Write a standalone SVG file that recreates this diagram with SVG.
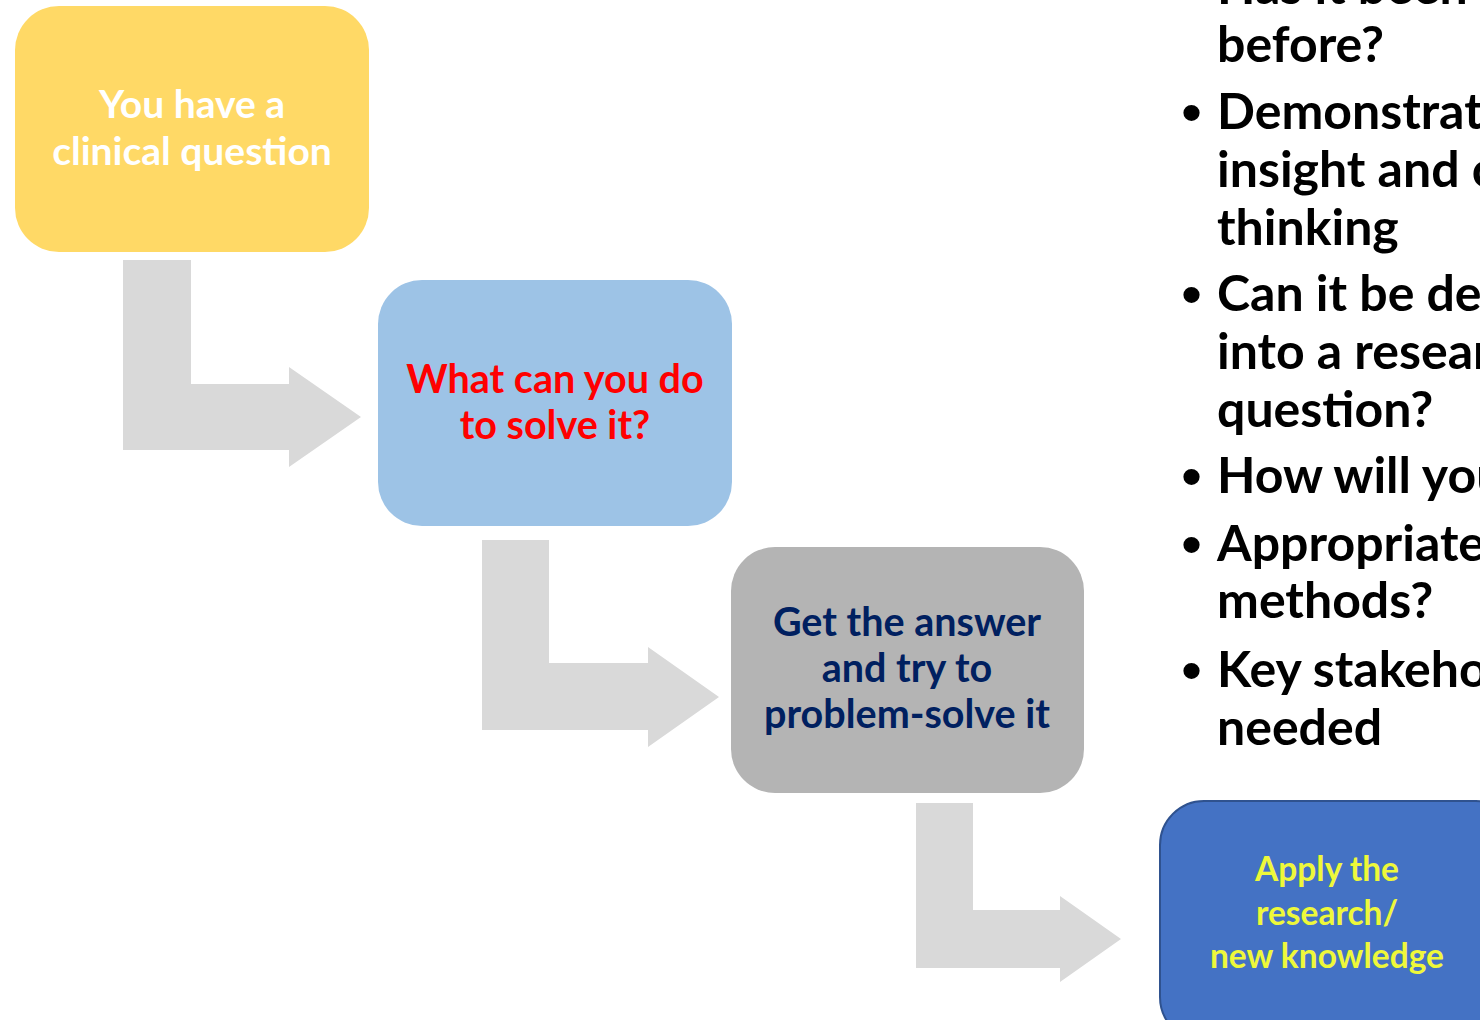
<svg xmlns="http://www.w3.org/2000/svg" width="1480" height="1020" viewBox="0 0 1480 1020">
<style>
.t{font-family:Lato,"Open Sans","Liberation Sans",sans-serif;font-weight:bold;text-anchor:middle}
.b{font-family:Lato,"Open Sans","Liberation Sans",sans-serif;font-weight:bold;font-size:50px;fill:#000}
.d{font-family:"Liberation Sans",sans-serif;font-size:60px;fill:#000}
.arr{fill:#D9D9D9}
</style>
<rect width="1480" height="1020" fill="#fff"/>
<g id="connectors">
<path class="arr" d="M123,260 H191 V384 H289 V367 L361,417 L289,467 V450 H123 Z"/>
<path class="arr" d="M482,540 H549 V663 H648 V647 L719,697 L648,747 V730 H482 Z"/>
<path class="arr" d="M916,803 H973 V910 H1060 V896 L1121,939 L1060,982 V968 H916 Z"/>
</g>
<g id="node1">
<rect x="15" y="6" width="354" height="246" rx="44" fill="#FFD966"/>
<text class="t" x="192" y="118" font-size="39" fill="#fff">You have a</text>
<text class="t" x="192" y="165" font-size="39" fill="#fff">clinical question</text>
</g>
<g id="node2">
<rect x="378" y="280" width="354" height="246" rx="44" fill="#9DC3E6"/>
<text class="t" x="555" y="393" font-size="39.5" fill="#FF0000">What can you do</text>
<text class="t" x="555" y="439" font-size="39.5" fill="#FF0000">to solve it?</text>
</g>
<g id="node3">
<rect x="731" y="547" width="353" height="246" rx="44" fill="#B4B4B4"/>
<text class="t" x="907" y="636" font-size="39.5" fill="#002060">Get the answer</text>
<text class="t" x="907" y="682" font-size="39.5" fill="#002060">and try to</text>
<text class="t" x="907" y="728" font-size="39.5" fill="#002060">problem-solve it</text>
</g>
<g id="node4">
<rect x="1160" y="801" width="360" height="240" rx="44" fill="#4472C4" stroke="#2F528F" stroke-width="2"/>
<text class="t" x="1327" y="881" font-size="33.5" fill="#EEF83A">Apply the</text>
<text class="t" x="1327" y="925" font-size="33.5" fill="#EEF83A">research/</text>
<text class="t" x="1327" y="968" font-size="33.5" fill="#EEF83A">new knowledge</text>
</g>
<g id="bullets">
<text class="b" x="1217" y="4">Has it been done</text>
<text class="b" x="1217" y="62">before?</text>
<text class="d" x="1181" y="133">•</text>
<text class="b" x="1217" y="129">Demonstrates</text>
<text class="b" x="1217" y="187">insight and critical</text>
<text class="b" x="1217" y="245">thinking</text>
<text class="d" x="1181" y="315">•</text>
<text class="b" x="1217" y="311">Can it be developed</text>
<text class="b" x="1217" y="369">into a research</text>
<text class="b" x="1217" y="427">question?</text>
<text class="d" x="1181" y="497">•</text>
<text class="b" x="1217" y="493">How will you do it?</text>
<text class="d" x="1181" y="565">•</text>
<text class="b" x="1217" y="561">Appropriate</text>
<text class="b" x="1217" y="618">methods?</text>
<text class="d" x="1181" y="691">•</text>
<text class="b" x="1217" y="687">Key stakeholders</text>
<text class="b" x="1217" y="745">needed</text>
</g>
</svg>
